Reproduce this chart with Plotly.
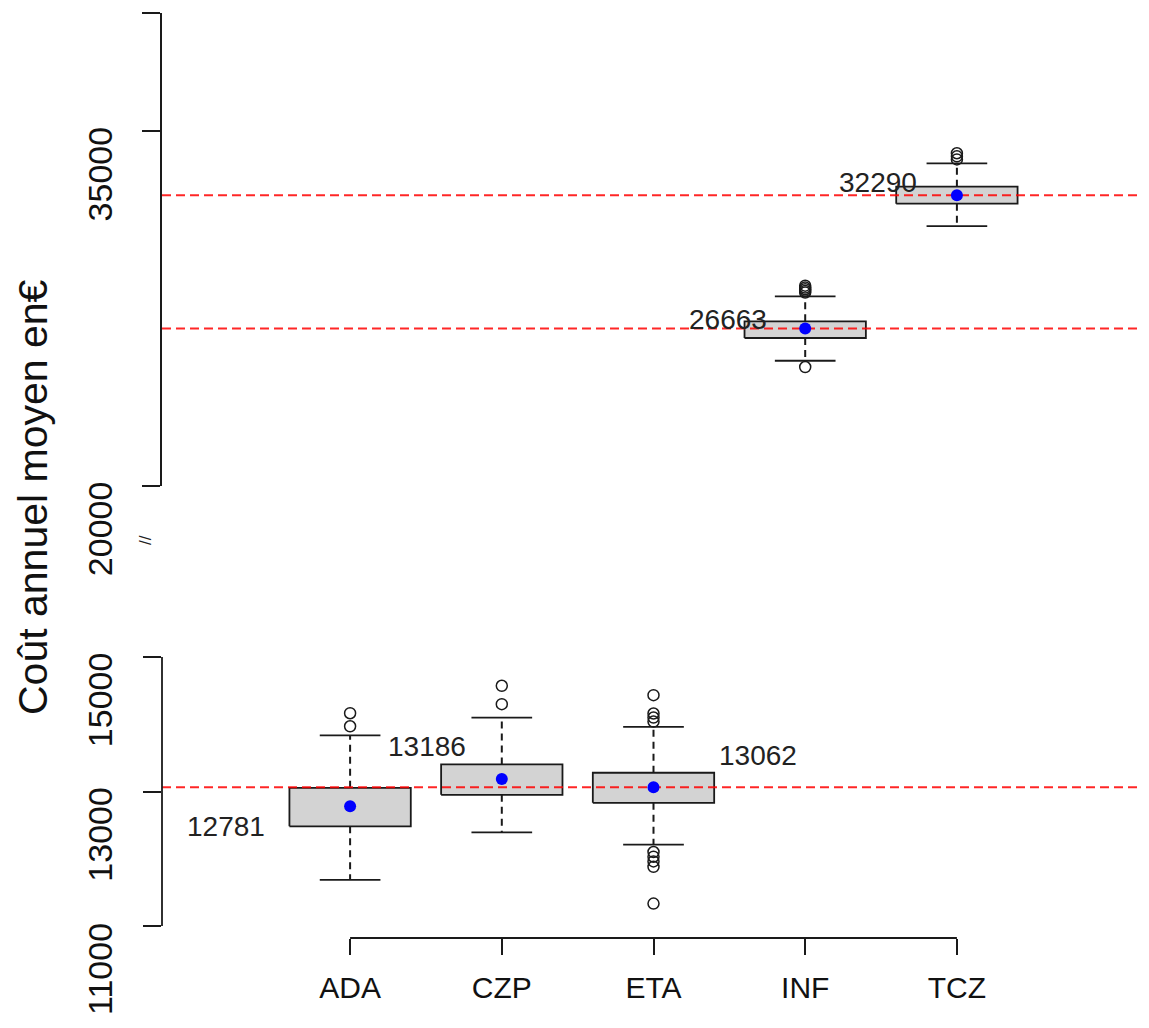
import plotly.graph_objects as go

# ---------------- data ----------------
categories = ["ADA", "CZP", "ETA", "INF", "TCZ"]
q1 = [12482, 12951, 12831, 26258, 31936]
q3 = [13055, 13403, 13279, 26962, 32657]
whisker_low = [11687, 12393, 12209, 25297, 30987]
whisker_high = [13836, 14100, 13960, 28021, 33644]
means = [12781, 13186, 13062, 26663, 32290]
outliers = [
    [13970, 14164],
    [14299, 14572],
    [14040, 14100, 14160, 14433, 11880, 11960, 12030, 12100, 11333],
    [28180, 28250, 28320, 28390, 28470, 25030],
    [33810, 33940, 34070],
]
reference_lines = [13062, 26663, 32290]

low_ticks = [11000, 13000, 15000]
low_ticklabels = ["11000", "13000", "15000"]
high_ticks = [20000, 35000, 40000]
high_ticklabels = ["20000", "35000", ""]

# ---------------- styling / layout constants ----------------
GAP_LOW, GAP_HIGH = 15000, 20000
X_RANGE = [-0.24, 6.24]
BOX_HALF = 0.4
CAP_HALF = 0.2
# pixel offsets of the mean labels relative to the mean point
label_dx = [-124, -75, 104, -77, -79]
label_dy = [-20, 32, 32, 9, 13]

PAGE_OFFSET = 8            # default body margin of the html page
W, H = 1149 - PAGE_OFFSET, 1028 - PAGE_OFFSET
# target pixel positions in the 1149x1028 window
PL, PR, PT, PB = 162, 1145, 13, 938
ML = PL - PAGE_OFFSET
MT = PT - PAGE_OFFSET
MR = (PAGE_OFFSET + W) - PR
MB = (PAGE_OFFSET + H) - PB
ph = PB - PT
pw = PR - PL


def fy(py):
    return (PB - py) / ph


def fx(px):
    return (px - PL) / pw


low_domain = [0, fy(657)]
high_domain = [fy(486), 1]
low_range = [11000 - (PB - 926) / (926 - 657) * 4000, 15000]

fig = go.Figure()


def yref_for(v):
    return "y2" if v > GAP_HIGH else "y"


BLACK = "#1a1a1a"
LW = 1.8

for i, cat in enumerate(categories):
    x = i + 1
    ya = yref_for(means[i])
    # box
    fig.add_trace(go.Scatter(
        x=[x - BOX_HALF, x + BOX_HALF, x + BOX_HALF, x - BOX_HALF, x - BOX_HALF],
        y=[q1[i], q1[i], q3[i], q3[i], q1[i]],
        mode="lines", fill="toself", fillcolor="#D3D3D3",
        line=dict(color=BLACK, width=LW), yaxis=ya, hoverinfo="skip"))
    # whiskers (dashed)
    for a, b in ((q3[i], whisker_high[i]), (q1[i], whisker_low[i])):
        fig.add_trace(go.Scatter(
            x=[x, x], y=[a, b], mode="lines",
            line=dict(color=BLACK, width=2, dash="7px,5px"),
            yaxis=ya, hoverinfo="skip"))
    # caps
    for v in (whisker_high[i], whisker_low[i]):
        fig.add_trace(go.Scatter(
            x=[x - CAP_HALF, x + CAP_HALF], y=[v, v], mode="lines",
            line=dict(color=BLACK, width=LW), yaxis=ya, hoverinfo="skip"))
    # outliers
    fig.add_trace(go.Scatter(
        x=[x] * len(outliers[i]), y=outliers[i], mode="markers",
        marker=dict(symbol="circle-open", size=11, color=BLACK,
                    line=dict(width=1.5, color=BLACK)),
        yaxis=ya, hoverinfo="skip"))

# red dashed reference lines
for v in reference_lines:
    fig.add_trace(go.Scatter(
        x=X_RANGE, y=[v, v], mode="lines",
        line=dict(color="rgba(255,0,0,0.85)", width=2, dash="9px,5px"),
        yaxis=yref_for(v), hoverinfo="skip"))

# means
for i, cat in enumerate(categories):
    fig.add_trace(go.Scatter(
        x=[i + 1], y=[means[i]], mode="markers",
        marker=dict(symbol="circle", size=12, color="#0000FF"),
        yaxis=yref_for(means[i]), hoverinfo="skip"))
    fig.add_annotation(
        x=i + 1, y=means[i], xref="x", yref=yref_for(means[i]),
        text=str(means[i]), showarrow=False, xanchor="center", yanchor="middle",
        xshift=label_dx[i], yshift=label_dy[i],
        font=dict(size=28, color="#222222"))

# axis lines drawn over the tick span only
fig.add_shape(type="line", xref="x", yref="paper", x0=1, x1=len(categories),
              y0=0, y1=0, line=dict(color=BLACK, width=LW))
fig.add_shape(type="line", xref="paper", yref="y", x0=0, x1=0,
              y0=low_ticks[0], y1=low_ticks[-1], line=dict(color=BLACK, width=LW))

# axis break mark
fig.add_annotation(x=fx(145), y=fy(540), xref="paper", yref="paper",
                   text="//", showarrow=False, textangle=-90,
                   xanchor="center", yanchor="middle",
                   font=dict(size=17, color="#222222"))

# y title
fig.add_annotation(x=fx(33), y=fy(497), xref="paper", yref="paper",
                   text="Coût annuel moyen en€", showarrow=False, textangle=-90,
                   xanchor="center", yanchor="middle",
                   font=dict(size=41, color="#111111"))

common_y = dict(ticks="outside", ticklen=18, tickwidth=LW, tickcolor=BLACK,
                tickangle=-90, showgrid=False, zeroline=False, automargin=False,
                tickfont=dict(size=34, color="#111111"), ticklabelshift=48,
                ticklabelstandoff=17, anchor="x", fixedrange=True)

fig.update_layout(
    width=W, height=H,
    margin=dict(l=ML, r=MR, t=MT, b=MB),
    paper_bgcolor="white", plot_bgcolor="white",
    showlegend=False, template="none",
    font=dict(family="Liberation Sans, Arial, sans-serif"),
    xaxis=dict(range=X_RANGE, tickmode="array", tickvals=list(range(1, len(categories) + 1)),
               ticktext=categories, ticks="outside", ticklen=16, tickwidth=LW,
               tickcolor=BLACK, showline=False, showgrid=False, zeroline=False,
               automargin=False, tickfont=dict(size=30, color="#111111"),
               ticklabelstandoff=7, anchor="y"),
    yaxis=dict(domain=low_domain, range=low_range, tickmode="array",
               tickvals=low_ticks, ticktext=low_ticklabels, showline=False, **common_y),
    yaxis2=dict(domain=high_domain, range=[high_ticks[0], high_ticks[-1]], tickmode="array",
                tickvals=high_ticks, ticktext=high_ticklabels, showline=True,
                linecolor=BLACK, linewidth=LW, **common_y),
)

fig.write_html("out.html")
